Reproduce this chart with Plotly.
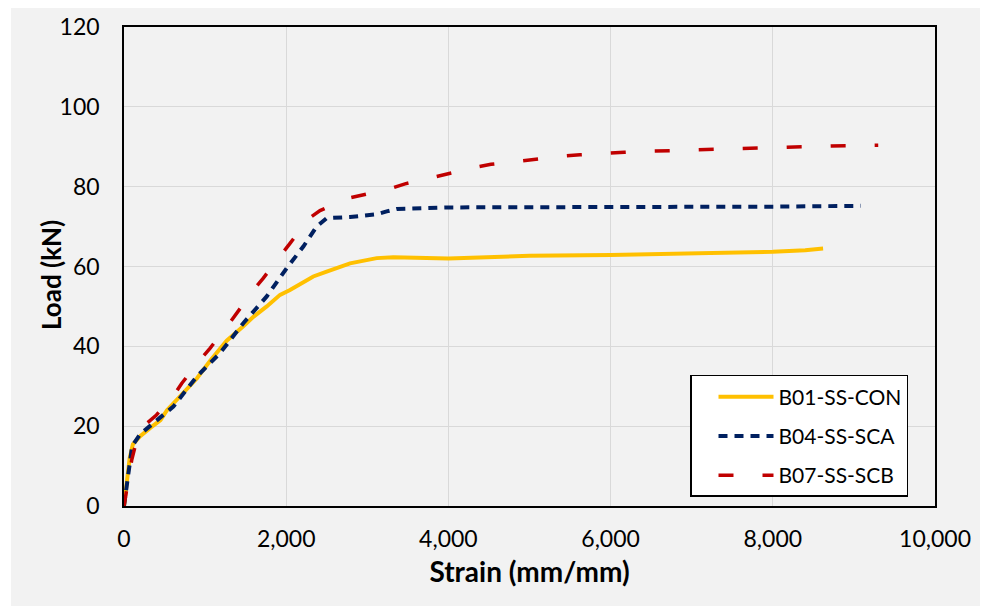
import plotly.graph_objects as go

# ---- data ----
b01_strain = [0, 30, 70, 110, 200, 320, 450, 530, 650, 773, 900, 1060, 1266, 1471, 1595,
              1760, 1924, 2047, 2150, 2211, 2334, 2499, 2787, 3116, 3321, 4000, 5000,
              6000, 6900, 8000, 8400, 8620]
b01_load = [0, 6, 12, 15.5, 17.5, 19.5, 21.5, 24, 26.5, 29, 32, 36.3, 41.4, 45, 47.4,
            50, 52.9, 54.1, 55.3, 55.8, 57.5, 58.7, 60.8, 62.1, 62.3, 62.0, 62.7,
            62.9, 63.2, 63.7, 64.1, 64.5]

b04_strain = [0, 30, 60, 100, 200, 320, 450, 608, 896, 1184, 1471, 1760, 2006, 2211,
              2376, 2499, 2787, 3116, 3239, 3363, 4000, 5000, 6000, 7000, 8000, 9084]
b04_load = [0, 5, 10, 15, 18, 20, 22, 24.9, 32.4, 38.3, 45.8, 52.5, 59.6, 65,
            70, 72.1, 72.4, 73.1, 73.8, 74.4, 74.8, 74.8, 74.9, 74.9, 75.0, 75.2]

b07_strain = [0, 50, 95, 150, 200, 280, 400, 616, 711, 937, 1060, 1286, 1389, 1615,
              1718, 1944, 2047, 2285, 2417, 2766, 2930, 3300, 3465, 3814, 3999, 4349,
              4525, 4895, 5068, 5438, 5623, 5993, 6169, 6535, 7077, 7620, 8175, 8718, 9300]
b07_load = [0, 6, 11.5, 16, 18.5, 20.7, 22.8, 27.8, 30.7, 36.6, 39.5, 45.4, 48.3, 54.6,
            57.1, 63.3, 65.8, 72.1, 74.0, 77.1, 77.9, 79.6, 80.7, 82.4, 83.4, 84.9,
            85.6, 86.5, 87.0, 87.7, 88.0, 88.5, 88.6, 88.9, 89.3, 89.5, 89.9, 90.2, 90.4]

series_names = ["B01-SS-CON", "B04-SS-SCA", "B07-SS-SCB"]
x_ticks = [0, 2000, 4000, 6000, 8000, 10000]
y_ticks = [0, 20, 40, 60, 80, 100, 120]
x_title = "Strain (mm/mm)"
y_title = "Load (kN)"

FONT = "Lato, 'Open Sans', sans-serif"

fig = go.Figure()
fig.add_trace(go.Scatter(x=b01_strain, y=b01_load, mode="lines", name=series_names[0],
                         legendgroup="a",
                         line=dict(color="#FFC000", width=4)))
fig.add_trace(go.Scatter(x=b04_strain, y=b04_load, mode="lines", name=series_names[1],
                         legendgroup="b",
                         line=dict(color="#002060", width=4, dash="9px,7px")))
fig.add_trace(go.Scatter(x=b07_strain, y=b07_load, mode="lines", name=series_names[2],
                         legendgroup="c",
                         line=dict(color="#C00000", width=3.5, dash="15px,29px")))

axis_common = dict(
    showgrid=True, gridcolor="#d9d9d9", gridwidth=1,
    showline=True, linecolor="#000000", linewidth=1.5, mirror=True,
    zeroline=False, ticks="",
    tickfont=dict(family=FONT, size=23, color="#000000"),
)

fig.update_xaxes(range=[0, 10000], tickvals=x_ticks, tickformat=",",
                 ticklabelstandoff=12,
                 title=dict(text="<b>" + x_title + "</b>", standoff=11,
                            font=dict(family=FONT, size=28, color="#000000")),
                 **axis_common)
fig.update_yaxes(range=[0, 120], tickvals=y_ticks, ticklabelstandoff=18,
                 **axis_common)

# page body adds an 8px offset; margins compensate so the plot box lands where the reference has it
fig.update_layout(
    width=988, height=606,
    margin=dict(l=116, r=61, t=19, b=108, autoexpand=False),
    paper_bgcolor="#f2f2f2", plot_bgcolor="#f2f2f2",
    font=dict(family=FONT, color="#000000"),
    showlegend=True,
    legend=dict(
        x=(690 - 124) / 811, xanchor="left", y=0.0188, yanchor="bottom",
        bgcolor="#ffffff", bordercolor="#000000", borderwidth=1.5,
        font=dict(family=FONT, size=21, color="#000000"),
        traceorder="grouped", tracegroupgap=9,
        itemwidth=55, indentation=22,
    ),
    annotations=[
        dict(text="<b>" + y_title + "</b>", xref="paper", yref="paper",
             x=(43 - 116) / 811, y=(498 - 267) / 479, xanchor="center", yanchor="middle",
             textangle=-90, showarrow=False,
             font=dict(family=FONT, size=26, color="#000000")),
    ],
    shapes=[
        dict(type="rect", xref="paper", yref="paper", x0=-0.2, x1=(3 - 116) / 811,
             y0=-0.3, y1=1.2, fillcolor="#ffffff", line=dict(width=0), layer="below"),
    ],
)

fig.write_html("out.html")
